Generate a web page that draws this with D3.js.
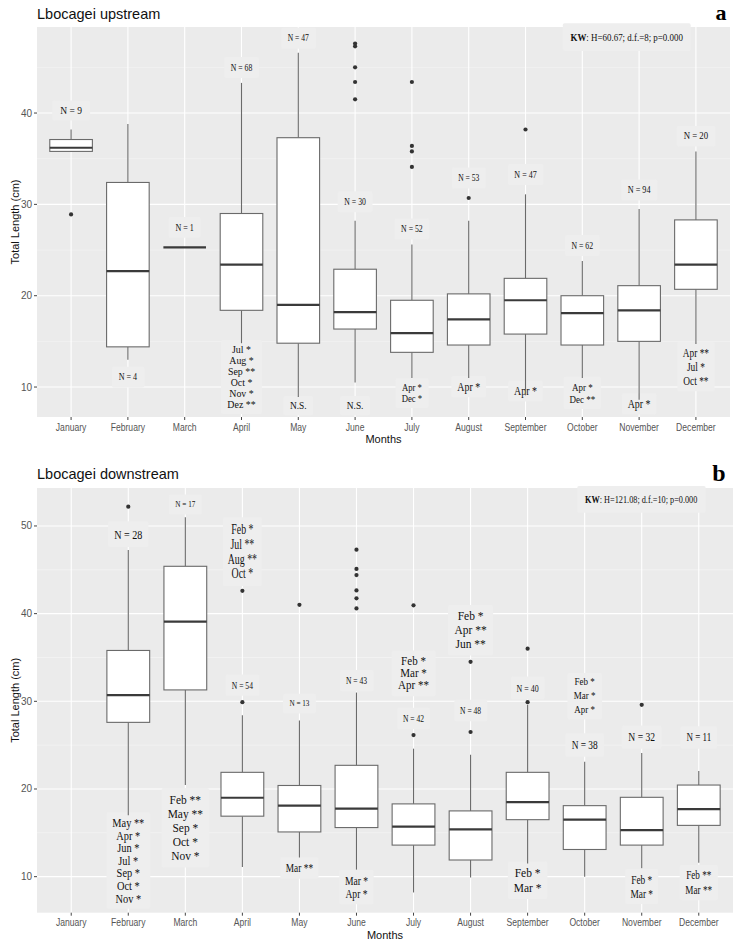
<!DOCTYPE html>
<html><head><meta charset="utf-8">
<script src="https://cdn.jsdelivr.net/npm/d3@7/dist/d3.min.js"></script>
<style>body{margin:0;background:#fff} svg{display:block}</style>
</head><body><svg id="c" width="736" height="945"></svg>
<script>
// ---------------- DATA ----------------
const months = ["January","February","March","April","May","June","July","August","September","October","November","December"];

// Upstream (panel a)
const upLow  = [35.8, 13.0, 25.3, 14.8,  8.9, 10.5, 11.0, 11.0,  9.1, 11.0,  8.6, 14.7];
const upQ1   = [35.8, 14.4, 25.3, 18.4, 14.8, 16.35,13.8, 14.6, 15.8, 14.6, 15.0, 20.7];
const upMed  = [36.2, 22.7, 25.3, 23.4, 19.0, 18.2, 15.9, 17.4, 19.5, 18.1, 18.4, 23.4];
const upQ3   = [37.1, 32.4, 25.3, 29.0, 37.3, 22.9, 19.5, 20.2, 21.9, 20.0, 21.1, 28.3];
const upHigh = [38.2, 38.8, 25.3, 43.3, 46.6, 28.2, 25.6, 28.2, 31.1, 23.8, 29.5, 35.8];
const upOut = [["January",28.9],["June",47.6],["June",47.3],["June",45.0],["June",43.4],["June",41.5],
  ["July",43.4],["July",36.4],["July",35.8],["July",34.1],["August",30.7],["September",38.2]];
const upNText = ["N = 9","N = 4","N = 1","N = 68","N = 47","N = 30","N = 52","N = 53","N = 47","N = 62","N = 94","N = 20"];
const upNAt   = [40.3, 11.1, 27.5, 45.0, 48.2, 30.3, 27.3, 32.9, 33.3, 25.5, 31.6, 37.5];
const upSig = [
  {month:"April", at:14.1, lines:["Jul *","Aug *","Sep **","Oct *","Nov *","Dez **"]},
  {month:"May", at:7.95, lines:["N.S."]},
  {month:"June", at:7.95, lines:["N.S."]},
  {month:"July", at:9.97, lines:["Apr *","Dec *"]},
  {month:"August", at:10.03, lines:["Apr *"]},
  {month:"September", at:9.56, lines:["Apr *"]},
  {month:"October", at:10.03, lines:["Apr *","Dec **"]},
  {month:"November", at:8.14, lines:["Apr *"]},
  {month:"December", at:13.75, lines:["Apr **","Jul *","Oct **"]}
];
const upKW = {at:48.3, month:"November"};
const upTicks = [10,20,30,40];

// Downstream (panel b)
const downLow  = [null, 17.0, 20.45, 11.1, 12.2, 10.8,  8.2,  9.9, 11.5, 10.0, 10.95, 11.6];
const downQ1   = [null, 27.6, 31.3, 16.9, 15.1, 15.6, 13.6, 11.9, 16.5, 13.1, 13.6, 15.85];
const downMed  = [null, 30.7, 39.1, 19.0, 18.1, 17.75,15.7, 15.4, 18.5, 16.5, 15.3, 17.7];
const downQ3   = [null, 35.8, 45.4, 21.9, 20.4, 22.7, 18.3, 17.5, 21.9, 18.1, 19.05, 20.45];
const downHigh = [null, 47.25,51.0, 28.4, 27.8, 31.0, 24.6, 23.9, 29.6, 23.1, 24.1, 22.05];
const downOut = [["February",52.2],["April",29.9],["April",42.6],["May",41.0],
  ["June",47.3],["June",45.1],["June",44.4],["June",42.65],["June",41.75],["June",40.6],
  ["July",26.15],["July",40.95],["August",26.5],["August",34.5],["September",29.9],["September",36.0],["November",29.6]];
const downNText = [null,"N = 28","N = 17","N = 54","N = 13","N = 43","N = 42","N = 48","N = 40","N = 38","N = 32","N = 11"];
const downNAt   = [null, 49.1, 52.5, 31.86, 29.78, 32.36, 28.07, 28.98, 31.52, 24.99, 25.9, 25.9];
const downSig = [
  {month:"April", at:49.66, lines:["Feb *","Jul **","Aug **","Oct *"]},
  {month:"February", at:16.16, lines:["May **","Apr *","Jun *","Jul *","Sep *","Oct *","Nov *"]},
  {month:"March", at:18.83, lines:["Feb **","May **","Sep *","Oct *","Nov *"]},
  {month:"May", at:10.96, lines:["Mar **"]},
  {month:"June", at:9.51, lines:["Mar *","Apr *"]},
  {month:"July", at:34.64, lines:["Feb *","Mar *","Apr **"]},
  {month:"August", at:39.73, lines:["Feb *","Apr **","Jun **"]},
  {month:"October", at:32.21, lines:["Feb *","Mar *","Apr *"]},
  {month:"September", at:10.46, lines:["Feb *","Mar *"]},
  {month:"November", at:9.62, lines:["Feb *","Mar *"]},
  {month:"December", at:10.19, lines:["Feb **","Mar **"]}
];
const downKW = {at:53.05, month:"November"};
const downTicks = [10,20,30,40,50];

// ---------------- STYLES ----------------
const upNStyle = [{s:9.5,sx:1},{s:9.5,sx:0.85},{s:9.5,sx:0.85},{s:9.5,sx:0.82},{s:9.5,sx:0.8},{s:9.5,sx:0.82},
  {s:9.5,sx:0.82},{s:9.5,sx:0.8},{s:10,sx:0.8},{s:9.5,sx:0.82},{s:10,sx:0.82},{s:10,sx:0.88}];
const upSigStyle = [{s:11,lh:10.9,sx:0.9},{s:10,lh:11,sx:0.94},{s:10,lh:11,sx:0.94},{s:10,lh:11,sx:0.87},
  {s:12,lh:12,sx:0.83},{s:12,lh:12,sx:0.83},{s:11,lh:12.3,sx:0.82},{s:12,lh:12,sx:0.83},{s:12,lh:14,sx:0.78}];
const downNStyle = [null,{s:13.5,sx:0.75},{s:9,sx:0.8},{s:10,sx:0.76},{s:9,sx:0.8},{s:10,sx:0.76},{s:10.5,sx:0.72},
  {s:10.5,sx:0.72},{s:11,sx:0.72},{s:12,sx:0.78},{s:12,sx:0.8},{s:12,sx:0.75}];
const downSigStyle = [{s:14.5,lh:14.8,sx:0.68},{s:12.5,lh:12.6,sx:0.83},{s:13,lh:14.1,sx:0.88},{s:12,lh:13,sx:0.78},
  {s:12,lh:13,sx:0.8},{s:12,lh:12.2,sx:0.92},{s:12.5,lh:14,sx:0.92},{s:10,lh:14,sx:0.9},{s:13.5,lh:14.4,sx:0.85},
  {s:12.5,lh:13.3,sx:0.75},{s:11.5,lh:15,sx:0.8}];

const svg = d3.select("#c");
const SERIF = "'Liberation Serif','Times New Roman',serif";
const SANS = "'Liberation Sans',Arial,sans-serif";

function panel(cfg){
  const g = svg.append("g");
  const x = d3.scalePoint().domain(months).range([cfg.left, cfg.right]).padding(0.6);
  const y = d3.scaleLinear().domain(cfg.domain).range([cfg.bottom, cfg.top]);
  const bw = x.step()*0.75;

  g.append("rect").attr("x",cfg.left).attr("y",cfg.top).attr("width",cfg.right-cfg.left)
    .attr("height",cfg.bottom-cfg.top).attr("fill","#ebebeb");
  const minor = d3.range(5, cfg.domain[1], 10).filter(v=>v>cfg.domain[0]);
  g.selectAll(".mn").data(minor).join("line").attr("x1",cfg.left).attr("x2",cfg.right)
    .attr("y1",d=>y(d)).attr("y2",d=>y(d)).attr("stroke","#f6f6f6").attr("stroke-width",0.6);
  g.selectAll(".mj").data(cfg.ticks).join("line").attr("x1",cfg.left).attr("x2",cfg.right)
    .attr("y1",d=>y(d)).attr("y2",d=>y(d)).attr("stroke","#fff").attr("stroke-width",1.1);
  g.selectAll(".vg").data(months).join("line").attr("x1",d=>x(d)).attr("x2",d=>x(d))
    .attr("y1",cfg.top).attr("y2",cfg.bottom).attr("stroke","#fff").attr("stroke-width",1.1);

  const labG = g.append("g");
  function label(cx, v, lines, st, padX, padY, bold){
    const cy = y(v);
    const lg = labG.append("g").attr("transform",`translate(${cx},${cy}) scale(${st.sx},1)`);
    const bg = lg.append("rect").attr("fill","#eeeeee");
    const t = lg.append("text").attr("font-family",SERIF).attr("font-size",st.s).attr("fill","#111")
      .attr("text-anchor","middle");
    lines.forEach((ln,i)=>{
      const ts = t.append("tspan").attr("x",0).attr("y",i*(st.lh||12)).attr("dy","0.35em");
      if(bold){ ts.append("tspan").attr("font-weight","bold").text(bold); ts.append("tspan").text(ln); }
      else ts.text(ln);
    });
    const bb = t.node().getBBox();
    bg.attr("x",bb.x-padX).attr("y",bb.y-padY).attr("width",bb.width+2*padX).attr("height",bb.height+2*padY).attr("rx",2);
  }
  cfg.nText.forEach((tx,i)=>{ if(tx) label(x(months[i]), cfg.nAt[i], [tx], cfg.nStyle[i], 8, 5); });
  cfg.sig.forEach((s,i)=>{ label(x(s.month), s.at, s.lines, cfg.sigStyle[i], 7, 4); });
  const kwx = (x(cfg.kw.month)+x(months[months.indexOf(cfg.kw.month)-1]))/2 + cfg.kwDx;
  label(kwx, cfg.kw.at, [cfg.kwText], {s:cfg.kwSize, sx:cfg.kwSx}, 9, 8, "KW");

  const idx = months.map((m,i)=>i).filter(i=>cfg.q1[i]!=null);
  const bx = g.append("g");
  idx.forEach(i=>{
    const m = months[i], cx = x(m);
    bx.append("line").attr("x1",cx).attr("x2",cx).attr("y1",y(cfg.q3[i])).attr("y2",y(cfg.high[i]))
      .attr("stroke","#6a6a6a").attr("stroke-width",1.1);
    bx.append("line").attr("x1",cx).attr("x2",cx).attr("y1",y(cfg.q1[i])).attr("y2",y(cfg.low[i]))
      .attr("stroke","#6a6a6a").attr("stroke-width",1.1);
    bx.append("rect").attr("x",cx-bw/2).attr("width",bw).attr("y",y(cfg.q3[i]))
      .attr("height",Math.max(0,y(cfg.q1[i])-y(cfg.q3[i]))).attr("fill","#fff")
      .attr("stroke","#6a6a6a").attr("stroke-width",1.1);
    bx.append("line").attr("x1",cx-bw/2).attr("x2",cx+bw/2).attr("y1",y(cfg.med[i])).attr("y2",y(cfg.med[i]))
      .attr("stroke","#3a3a3a").attr("stroke-width",2.2);
  });
  bx.selectAll("circle").data(cfg.out).join("circle").attr("cx",d=>x(d[0])).attr("cy",d=>y(d[1]))
    .attr("r",2.1).attr("fill","#333");

  const ax = g.append("g").attr("font-family",SANS);
  cfg.ticks.forEach(v=>{
    ax.append("line").attr("x1",cfg.left-3).attr("x2",cfg.left).attr("y1",y(v)).attr("y2",y(v)).attr("stroke","#444");
    ax.append("text").attr("x",cfg.left-5).attr("y",y(v)).attr("dy","0.35em").attr("text-anchor","end")
      .attr("font-size",10).attr("fill","#555").text(v);
  });
  months.forEach(m=>{
    ax.append("line").attr("x1",x(m)).attr("x2",x(m)).attr("y1",cfg.bottom).attr("y2",cfg.bottom+3).attr("stroke","#444");
    ax.append("text").attr("transform",`translate(${x(m)},${cfg.bottom+10}) scale(0.86,1)`).attr("dy","0.35em")
      .attr("text-anchor","middle").attr("font-size",10).attr("fill","#555").text(m);
  });
  ax.append("text").attr("x",(cfg.left+cfg.right)/2).attr("y",cfg.bottom+22).attr("dy","0.35em")
    .attr("text-anchor","middle").attr("font-size",11).attr("fill","#111").text("Months");
  ax.append("text").attr("transform",`translate(15,${(cfg.top+cfg.bottom)/2}) rotate(-90)`)
    .attr("dy","0.35em").attr("text-anchor","middle").attr("font-size",11)
    .attr("fill","#111").text("Total Length (cm)");
  ax.append("text").attr("x",cfg.left).attr("y",cfg.titleY).attr("font-size",14.5).attr("fill","#111").text(cfg.title);
  svg.append("text").attr("x",cfg.letterX).attr("y",cfg.letterY).attr("font-family",SERIF).attr("font-weight","bold")
    .attr("font-size",cfg.letterSize).attr("text-anchor","middle").attr("fill","#000").text(cfg.letter);
}

panel({left:37,right:730,top:27,bottom:417,domain:[6.72,49.42],ticks:upTicks,
  low:upLow,q1:upQ1,med:upMed,q3:upQ3,high:upHigh,out:upOut,
  nText:upNText,nAt:upNAt,nStyle:upNStyle,sig:upSig,sigStyle:upSigStyle,
  kw:upKW,kwDx:16,kwSize:10.5,kwSx:0.85,kwText:": H=60.67; d.f.=8; p=0.000",
  title:"Lbocagei upstream",titleY:19,letter:"a",letterX:721,letterY:20,letterSize:22});

panel({left:37,right:733,top:488,bottom:912.7,domain:[5.89,54.33],ticks:downTicks,
  low:downLow,q1:downQ1,med:downMed,q3:downQ3,high:downHigh,out:downOut,
  nText:downNText,nAt:downNAt,nStyle:downNStyle,sig:downSig,sigStyle:downSigStyle,
  kw:downKW,kwDx:28,kwSize:9.5,kwSx:0.87,kwText:": H=121.08; d.f.=10; p=0.000",
  title:"Lbocagei downstream",titleY:479,letter:"b",letterX:719,letterY:481,letterSize:24});
</script></body></html>
